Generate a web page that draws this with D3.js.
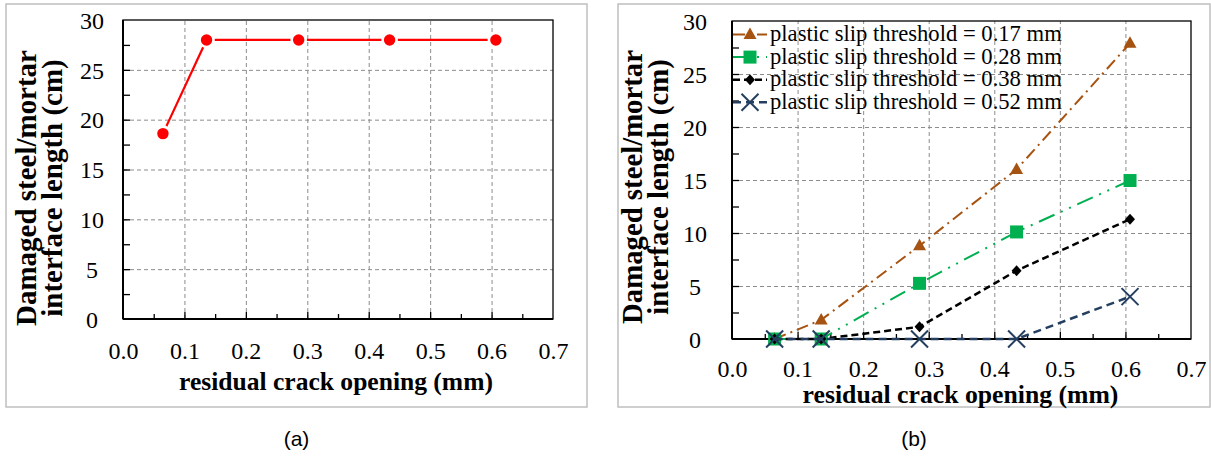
<!DOCTYPE html>
<html>
<head>
<meta charset="utf-8">
<script src="https://cdn.jsdelivr.net/npm/d3@7"></script>
<style>
  html, body { margin: 0; padding: 0; background: #fff; }
  svg { display: block; }
</style>
</head>
<body>
<svg id="chart" width="1211" height="459"></svg>
<script>
// ---------------- DATA ----------------
const xTickValues = [0, 0.1, 0.2, 0.3, 0.4, 0.5, 0.6, 0.7];
const xTickLabels = ["0.0", "0.1", "0.2", "0.3", "0.4", "0.5", "0.6", "0.7"];
const xMinorTicks = [0.05, 0.1, 0.15, 0.2, 0.25, 0.3, 0.35, 0.4, 0.45, 0.5, 0.55, 0.6, 0.65];
const yTickValues = [0, 5, 10, 15, 20, 25, 30];
const yTickLabels = ["0", "5", "10", "15", "20", "25", "30"];
const yMinorTicks = [2.5, 5, 7.5, 10, 12.5, 15, 17.5, 20, 22.5, 25, 27.5];

// panel (a)
const crackA = [0.065, 0.136, 0.286, 0.434, 0.607];
const lengthA = [18.6, 28.0, 28.0, 28.0, 28.0];

// panel (b)
const crackB = [0.065, 0.136, 0.286, 0.434, 0.607];
const slip017 = [0, 1.8, 8.8, 16.0, 27.9];
const slip028 = [0, 0, 5.25, 10.1, 14.95];
const slip038 = [0, 0, 1.15, 6.45, 11.3];
const slip052 = [0, 0, 0, 0, 4.0];
const seriesNames = [
  "plastic slip threshold = 0.17 mm",
  "plastic slip threshold = 0.28 mm",
  "plastic slip threshold = 0.38 mm",
  "plastic slip threshold = 0.52 mm"
];

const xAxisTitle = "residual crack opening (mm)";
const yAxisTitle1 = "Damaged steel/mortar";
const yAxisTitle2 = "interface length (cm)";
const captions = ["(a)", "(b)"];

// ---------------- STYLES ----------------
const seriesStyles = [
  { color: "#A65210", dash: "12,5,2,5", width: 2, marker: "triangle" },
  { color: "#00B050", dash: "17,7,2,7,2,7", width: 2, marker: "square" },
  { color: "#000000", dash: "7,4", width: 2.5, marker: "diamond" },
  { color: "#243F60", dash: "8,5", width: 2.5, marker: "cross" }
];
const serif = "'Liberation Serif', 'Times New Roman', serif";
const tickFs = 24;

const svg = d3.select("#chart");

function fitWidth(sel, target) {
  const w = sel.node().getComputedTextLength();
  const fs = parseFloat(sel.attr("font-size"));
  const nfs = fs * target / w;
  sel.attr("font-size", nfs);
  return nfs;
}

function markerPath(type, cx, cy) {
  const p = d3.path();
  if (type === "triangle") {
    const w = 13, h = 11.5;
    p.moveTo(cx, cy - h * 0.6); p.lineTo(cx + w / 2, cy + h * 0.4); p.lineTo(cx - w / 2, cy + h * 0.4); p.closePath();
  } else if (type === "square") {
    const s = 13;
    p.rect(cx - s / 2, cy - s / 2, s, s);
  } else if (type === "diamond") {
    const w = 10, h = 11;
    p.moveTo(cx, cy - h / 2); p.lineTo(cx + w / 2, cy); p.lineTo(cx, cy + h / 2); p.lineTo(cx - w / 2, cy); p.closePath();
  } else if (type === "cross") {
    const s = 8.5;
    p.moveTo(cx - s, cy - s); p.lineTo(cx + s, cy + s);
    p.moveTo(cx + s, cy - s); p.lineTo(cx - s, cy + s);
  }
  return p.toString();
}

function drawMarker(g, type, cx, cy, color) {
  const path = g.append("path").attr("d", markerPath(type, cx, cy));
  if (type === "cross") path.attr("fill", "none").attr("stroke", color).attr("stroke-width", 2);
  else path.attr("fill", color).attr("stroke", "none");
}

function drawFrame(cfg) {
  svg.append("rect")
    .attr("x", cfg.box[0]).attr("y", cfg.box[1])
    .attr("width", cfg.box[2] - cfg.box[0]).attr("height", cfg.box[3] - cfg.box[1])
    .attr("fill", "#fff").attr("stroke", "#BFBFBF").attr("stroke-width", 1.5);

  const x = d3.scaleLinear().domain([0, 0.7]).range([cfg.left, cfg.right]);
  const y = d3.scaleLinear().domain([0, 30]).range([cfg.bottom, cfg.top]);
  const W = cfg.right - cfg.left, H = cfg.bottom - cfg.top;
  const g = svg.append("g");

  // gridlines
  const gx = g.append("g").attr("transform", `translate(0,${cfg.bottom})`)
    .call(d3.axisBottom(x).tickValues(xTickValues.filter(v => v > 0 && v < 0.7)).tickSize(-H).tickFormat(""));
  gx.select(".domain").remove();
  gx.selectAll("line").attr("stroke", "#8C8C8C").attr("stroke-width", 1).attr("stroke-dasharray", "4,3");
  const gy = g.append("g").attr("transform", `translate(${cfg.left},0)`)
    .call(d3.axisLeft(y).tickValues(yTickValues.filter(v => v > 0 && v < 30)).tickSize(-W).tickFormat(""));
  gy.select(".domain").remove();
  gy.selectAll("line").attr("stroke", "#8C8C8C").attr("stroke-width", 1).attr("stroke-dasharray", "4,3");

  // plot frame
  g.append("rect").attr("x", cfg.left).attr("y", cfg.top).attr("width", W).attr("height", H)
    .attr("fill", "none").attr("stroke", "#000").attr("stroke-width", 1.3);
  g.append("line").attr("x1", cfg.left).attr("x2", cfg.right).attr("y1", cfg.bottom).attr("y2", cfg.bottom)
    .attr("stroke", "#000").attr("stroke-width", 2);
  g.append("line").attr("x1", cfg.left).attr("x2", cfg.left).attr("y1", cfg.top).attr("y2", cfg.bottom)
    .attr("stroke", "#000").attr("stroke-width", 2);

  // inward ticks
  const tx = g.append("g").attr("transform", `translate(0,${cfg.bottom})`)
    .call(d3.axisBottom(x).tickValues(xMinorTicks).tickSize(0).tickFormat(""));
  tx.select(".domain").remove();
  tx.selectAll(".tick line").attr("y2", d => (Math.abs((d * 10) - Math.round(d * 10)) < 1e-6 ? -7 : -5))
    .attr("stroke", "#000").attr("stroke-width", 1.3);
  const ty = g.append("g").attr("transform", `translate(${cfg.left},0)`)
    .call(d3.axisLeft(y).tickValues(yMinorTicks).tickSize(-7).tickFormat(""));
  ty.select(".domain").remove();
  ty.selectAll(".tick line").attr("stroke", "#000").attr("stroke-width", 1.3);

  // tick labels
  const lx = g.append("g").attr("transform", `translate(0,${cfg.bottom})`)
    .call(d3.axisBottom(x).tickValues(xTickValues).tickSize(0).tickPadding(0)
      .tickFormat((d, i) => xTickLabels[i]));
  lx.select(".domain").remove();
  lx.attr("font-family", serif).attr("font-size", tickFs);
  lx.selectAll("text").attr("font-family", serif).attr("font-size", tickFs).attr("fill", "#000")
    .attr("dy", null).attr("y", cfg.xLabelBase - cfg.bottom);
  const ly = g.append("g").attr("transform", `translate(${cfg.left},0)`)
    .call(d3.axisLeft(y).tickValues(yTickValues).tickSize(0).tickPadding(0)
      .tickFormat((d, i) => yTickLabels[i]));
  ly.select(".domain").remove();
  ly.attr("font-family", serif).attr("font-size", tickFs);
  ly.selectAll("text").attr("font-family", serif).attr("font-size", tickFs).attr("fill", "#000")
    .attr("text-anchor", "middle").attr("x", cfg.yLabelCx - cfg.left).attr("dy", "0.34em");

  // axis titles
  const xt = svg.append("text").attr("x", (cfg.left + cfg.right) / 2 + cfg.xTitleShift).attr("y", cfg.xTitleBase)
    .attr("text-anchor", "middle").attr("font-family", serif).attr("font-weight", "bold")
    .attr("font-size", 22).attr("fill", "#000").text(xAxisTitle);
  fitWidth(xt, cfg.xTitleWidth);

  const yt1 = svg.append("text").attr("transform", `translate(${cfg.yTitleBase1},${cfg.yTitleCy}) rotate(-90)`)
    .attr("text-anchor", "middle").attr("font-family", serif).attr("font-weight", "bold")
    .attr("font-size", 22).attr("fill", "#000").text(yAxisTitle1);
  const fs = fitWidth(yt1, cfg.yTitleWidth);
  svg.append("text").attr("transform", `translate(${cfg.yTitleBase2},${cfg.yTitleCy}) rotate(-90)`)
    .attr("text-anchor", "middle").attr("font-family", serif).attr("font-weight", "bold")
    .attr("font-size", fs).attr("fill", "#000").text(yAxisTitle2);

  // caption
  svg.append("text").attr("x", (cfg.box[0] + cfg.box[2]) / 2).attr("y", 446)
    .attr("text-anchor", "middle").attr("font-family", "'Liberation Sans', Arial, sans-serif")
    .attr("font-size", 21).attr("fill", "#000").text(cfg.caption);

  return { x, y, g };
}

// ---------------- PANEL (a) ----------------
const A = drawFrame({
  box: [6, 4, 587, 407],
  left: 123, right: 553, top: 20, bottom: 319,
  xLabelBase: 359, yLabelCx: 92,
  xTitleBase: 390, xTitleShift: -2, xTitleWidth: 314,
  yTitleBase1: 36, yTitleBase2: 62, yTitleCy: 188, yTitleWidth: 276,
  caption: captions[0]
});
const lineA = d3.line().x((d, i) => A.x(crackA[i])).y(d => A.y(d));
A.g.append("path").attr("d", lineA(lengthA)).attr("fill", "none")
  .attr("stroke", "#FF0000").attr("stroke-width", 2.2);
A.g.selectAll("circle.pt").data(lengthA).join("circle")
  .attr("cx", (d, i) => A.x(crackA[i])).attr("cy", d => A.y(d))
  .attr("r", 7).attr("fill", "#FF0000").attr("stroke", "#fff").attr("stroke-width", 2.6);

// ---------------- PANEL (b) ----------------
const B = drawFrame({
  box: [618, 4, 1210, 407],
  left: 732, right: 1191, top: 21, bottom: 339,
  xLabelBase: 377, yLabelCx: 695,
  xTitleBase: 403, xTitleShift: -1, xTitleWidth: 316,
  yTitleBase1: 642, yTitleBase2: 668, yTitleCy: 187, yTitleWidth: 274,
  caption: captions[1]
});
const seriesB = [slip017, slip028, slip038, slip052];
const lineB = d3.line().x((d, i) => B.x(crackB[i])).y(d => B.y(d));
seriesB.forEach((vals, si) => {
  const st = seriesStyles[si];
  B.g.append("path").attr("d", lineB(vals)).attr("fill", "none")
    .attr("stroke", st.color).attr("stroke-width", st.width).attr("stroke-dasharray", st.dash);
  vals.forEach((v, i) => drawMarker(B.g, st.marker, B.x(crackB[i]), B.y(v), st.color));
});

// legend
const legY0 = 34.5, legStep = 22.6;
let legFs = null;
seriesNames.forEach((name, si) => {
  const st = seriesStyles[si];
  const cy = legY0 + si * legStep;
  B.g.append("line").attr("x1", 733).attr("x2", 767).attr("y1", cy).attr("y2", cy)
    .attr("stroke", st.color).attr("stroke-width", st.width).attr("stroke-dasharray", st.dash);
  drawMarker(B.g, st.marker, 750, cy, st.color);
  const t = B.g.append("text").attr("x", 770).attr("y", cy + 6.5)
    .attr("font-family", serif).attr("font-size", legFs || 22).attr("fill", "#000").text(name);
  if (si === 0) legFs = fitWidth(t, 292);
});
</script>
</body>
</html>
